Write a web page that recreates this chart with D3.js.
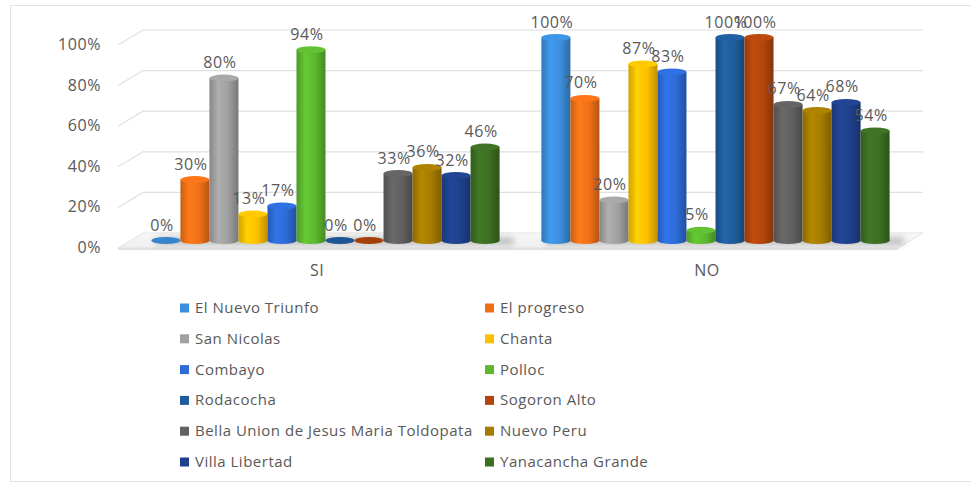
<!DOCTYPE html>
<html>
<head>
<meta charset="utf-8">
<script src="https://cdn.jsdelivr.net/npm/d3@7"></script>
<style>
  body { margin: 0; background: #fff; }
  text { font-family: "Open Sans", "Noto Sans", sans-serif; fill: #595959; }
</style>
</head>
<body>
<script>
// categories on the x axis
var categories = ['SI', 'NO'];

// one series per community (legend order)
var series = ['El Nuevo Triunfo', 'El progreso', 'San Nicolas', 'Chanta', 'Combayo', 'Polloc',
  'Rodacocha', 'Sogoron Alto', 'Bella Union de Jesus Maria Toldopata', 'Nuevo Peru',
  'Villa Libertad', 'Yanacancha Grande'];

// values per series, [SI, NO]
var valuesSI = [0, 0.30, 0.80, 0.13, 0.17, 0.94, 0, 0, 0.33, 0.36, 0.32, 0.46];
var valuesNO = [1.00, 0.70, 0.20, 0.87, 0.83, 0.05, 1.00, 1.00, 0.67, 0.64, 0.68, 0.54];

var yTicks = [0, 0.2, 0.4, 0.6, 0.8, 1];

var colors = ['#3b8edb', '#f07018', '#a0a0a0', '#fcc000', '#2d6bd6', '#5db830',
  '#1e5c9c', '#b2450c', '#606060', '#a67c00', '#1f418c', '#3c6e22'];

var width = 971, height = 483;
var depthX = 25, depthY = -15; // offset from front to back of the floor

var svg = d3.select('body').append('svg')
  .attr('width', width)
  .attr('height', height);

// chart frame
svg.append('rect')
  .attr('x', 10.5).attr('y', 5.5)
  .attr('width', 975).attr('height', 476)
  .attr('fill', '#fff')
  .attr('stroke', '#e0e0e6');

// scales (front plane)
var x = d3.scaleBand().domain(categories).range([118, 898]);
var xs = d3.scaleBand().domain(series).range([0, x.bandwidth()]).paddingOuter(0.72);
var y = d3.scaleLinear().domain([0, 1]).range([248, 45]);

var defs = svg.append('defs');
colors.forEach(function(c, i) {
  var g = defs.append('linearGradient').attr('id', 'cyl' + i);
  var base = d3.color(c);
  g.append('stop').attr('offset', '0%').attr('stop-color', base.darker(0.5));
  g.append('stop').attr('offset', '30%').attr('stop-color', base.brighter(0.25));
  g.append('stop').attr('offset', '65%').attr('stop-color', base);
  g.append('stop').attr('offset', '100%').attr('stop-color', base.darker(0.8));
});
defs.append('filter').attr('id', 'blur')
  .attr('x', '-20%').attr('y', '-200%').attr('width', '140%').attr('height', '500%')
  .append('feGaussianBlur').attr('stdDeviation', 3);
var fg = defs.append('linearGradient').attr('id', 'floor').attr('x1', 0).attr('x2', 0).attr('y1', 0).attr('y2', 1);
fg.append('stop').attr('offset', '0%').attr('stop-color', '#f8f8f8');
fg.append('stop').attr('offset', '100%').attr('stop-color', '#eeeeee');

// floor
var x0 = x.range()[0], x1 = x.range()[1];
svg.append('path')
  .attr('d', 'M' + x0 + ',' + y(0) + 'L' + (x0 + depthX) + ',' + (y(0) + depthY) +
    'L' + (x1 + depthX) + ',' + (y(0) + depthY) + 'L' + x1 + ',' + y(0) + 'Z')
  .attr('fill', 'url(#floor)')
  .attr('stroke', '#e3e3e3');
svg.append('line')
  .attr('x1', x0).attr('x2', x1)
  .attr('y1', y(0) + 1).attr('y2', y(0) + 1)
  .attr('stroke', '#dadada').attr('stroke-width', 1.5);

// gridlines: side wall diagonal + back wall horizontal
svg.append('g').selectAll('path')
  .data(yTicks.filter(function(t) { return t > 0; }))
  .enter().append('path')
  .attr('d', function(t) {
    return 'M' + x0 + ',' + y(t) + 'L' + (x0 + depthX) + ',' + (y(t) + depthY) +
      'L' + (x1 + depthX) + ',' + (y(t) + depthY);
  })
  .attr('fill', 'none')
  .attr('stroke', '#e0e0e0')
  .attr('stroke-width', 1.2);

// y tick labels
svg.append('g').selectAll('text')
  .data(yTicks)
  .enter().append('text')
  .attr('x', 101)
  .attr('y', function(t) { return y(t) + 5; })
  .attr('text-anchor', 'end')
  .style('font-size', '16px')
  .style('letter-spacing', '0.6px')
  .text(d3.format('.0%'));

// category labels
svg.append('g').selectAll('text')
  .data(categories)
  .enter().append('text')
  .attr('x', function(c) { return x(c) + x.bandwidth() / 2 + 4; })
  .attr('y', 276)
  .attr('text-anchor', 'middle')
  .style('font-size', '16px')
  .style('letter-spacing', '0.5px')
  .text(function(c) { return c; });

// bars sit halfway into the floor depth
var bx = depthX / 2, by = depthY / 2;
var ry = 3.5;
var data = [];
categories.forEach(function(c, ci) {
  var vals = ci === 0 ? valuesSI : valuesNO;
  series.forEach(function(s, si) {
    data.push({ cat: c, series: s, idx: si, value: vals[si] });
  });
});

// soft shadow behind each group
svg.append('g').selectAll('rect')
  .data(categories)
  .enter().append('rect')
  .attr('x', function(c) { return x(c) + xs(series[0]) + bx + 4; })
  .attr('y', y(0) + by - 3)
  .attr('width', xs.step() * series.length + 10)
  .attr('height', 7)
  .attr('fill', '#777')
  .attr('opacity', 0.45)
  .attr('filter', 'url(#blur)');

var bars = svg.append('g').selectAll('g')
  .data(data)
  .enter().append('g')
  .attr('transform', function(d) { return 'translate(' + (x(d.cat) + xs(d.series) + bx) + ',0)'; });

var w = xs.bandwidth();

bars.filter(function(d) { return d.value > 0; })
  .append('ellipse')
  .attr('cx', w / 2)
  .attr('cy', y(0) + by)
  .attr('rx', w / 2).attr('ry', ry)
  .attr('fill', function(d) { return 'url(#cyl' + d.idx + ')'; });

bars.filter(function(d) { return d.value > 0; })
  .append('rect')
  .attr('x', 0)
  .attr('y', function(d) { return y(d.value) + by; })
  .attr('width', w)
  .attr('height', function(d) { return y(0) - y(d.value); })
  .attr('fill', function(d) { return 'url(#cyl' + d.idx + ')'; });

bars.append('ellipse')
  .attr('cx', w / 2)
  .attr('cy', function(d) { return y(d.value) + by; })
  .attr('rx', w / 2).attr('ry', ry)
  .attr('fill', function(d) { return d3.color(colors[d.idx]).brighter(d.value > 0 ? 0.15 : -0.2); });

// data labels
bars.append('text')
  .attr('x', w / 2 - 4)
  .attr('y', function(d) { return y(d.value) + by - 10; })
  .attr('text-anchor', 'middle')
  .style('font-size', '16px')
  .style('letter-spacing', '0.6px')
  .text(function(d) { return d3.format('.0%')(d.value); });

// legend in two columns
var legend = svg.append('g').selectAll('g')
  .data(series)
  .enter().append('g')
  .attr('transform', function(s, i) {
    return 'translate(' + (i % 2 === 0 ? 180 : 485) + ',' + (308 + Math.floor(i / 2) * 30.8) + ')';
  });
legend.append('rect')
  .attr('x', 0).attr('y', -4.5)
  .attr('width', 9).attr('height', 9)
  .attr('fill', function(s, i) { return colors[i]; });
legend.append('text')
  .attr('x', 15).attr('y', 5)
  .style('font-size', '15px')
  .style('letter-spacing', '0.5px')
  .text(function(s) { return s; });
</script>
</body>
</html>
